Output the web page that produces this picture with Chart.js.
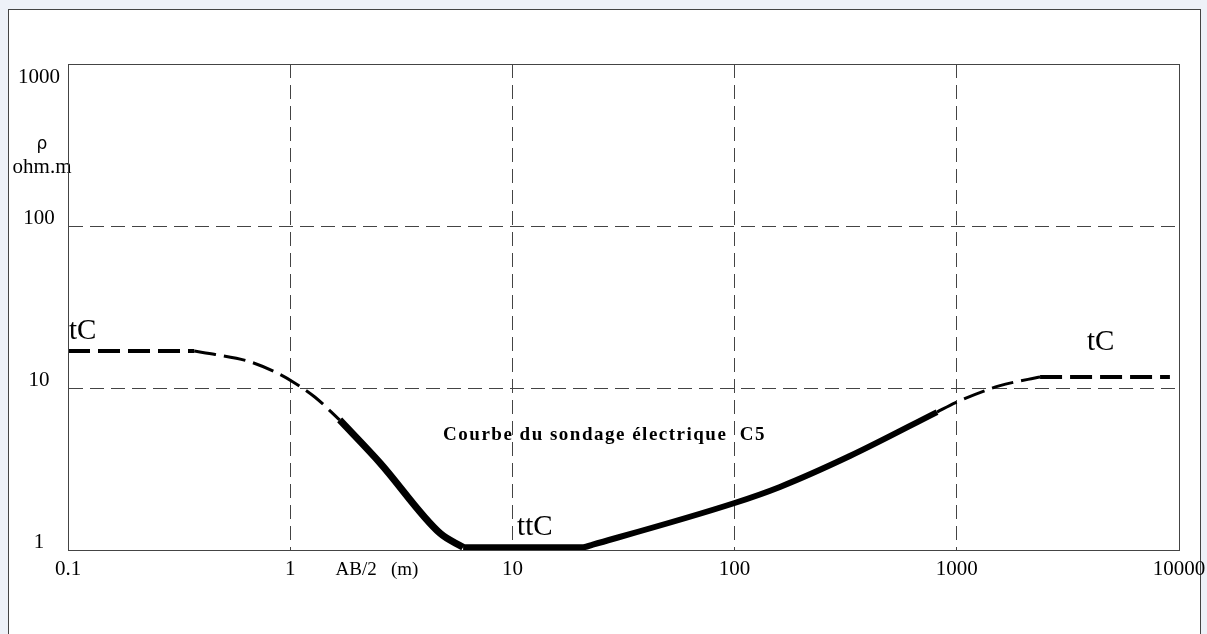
<!DOCTYPE html>
<html>
<head>
<meta charset="utf-8">
<title>Courbe du sondage électrique C5</title>
<script src="https://cdn.jsdelivr.net/npm/chart.js@4.4.1/dist/chart.umd.min.js"></script>
<style>
    html, body { margin: 0; padding: 0; background: #eef1f8; overflow: hidden; }
    #frame {
        position: absolute; left: 8px; top: 9px; width: 1193px; height: 640px;
        background: #fff; border: 1px solid #444; box-sizing: border-box;
    }
    #chart { position: absolute; left: 0; top: 0; }
</style>
</head>
<body>
<div id="frame"></div>
<canvas id="chart" width="1207" height="634"></canvas>
<script>
// axes (log-log)
const xTickValues = [0.1, 1, 10, 100, 1000, 10000];
const xTickLabels = ['0.1', '1', '10', '100', '1000', '10000'];
const yTickValues = [1, 10, 100, 1000];
const yTickLabels = ['1', '10', '100', '1000'];

// courbe : AB/2 (m) et rho (ohm.m), tronçon par tronçon
const flatLeftAB = [0.1, 0.37];
const flatLeftRho = [16.9, 16.9];
const bendLeftAB = [0.37, 0.46, 0.64, 0.85, 1.03, 1.29, 1.67];
const bendLeftRho = [16.9, 16.1, 14.7, 12.6, 10.9, 8.8, 6.35];
const descentAB = [1.67, 2.54, 4.72, 6.0];
const descentRho = [6.35, 3.44, 1.27, 1.04];
const riseAB = [6.0, 20.8, 23, 100, 160, 330, 815];
const riseRho = [1.04, 1.04, 1.08, 1.95, 2.45, 3.8, 7.1];
const bendRightAB = [815, 982, 1550, 2090, 2370];
const bendRightRho = [7.1, 8.1, 10.3, 11.3, 11.7];
const flatRightAB = [2370, 9100];
const flatRightRho = [11.7, 11.7];

// repères posés sur le graphique (coordonnées AB/2, rho)
const noteTexts = ['tC', 'ttC', 'tC'];
const noteAB = [0.101, 10.5, 3850];
const noteRho = [22.5, 1.37, 19];

const serif = '"Liberation Serif", "Times New Roman", serif';

function part(xs, ys, width, dash) {
    return {
        data: xs.map((x, i) => ({x: x, y: ys[i]})),
        borderColor: '#000',
        borderWidth: width,
        borderDash: dash,
        borderJoinStyle: 'round',
        pointRadius: 0,
        cubicInterpolationMode: 'monotone',
        fill: false,
    };
}

const framePlugin = {
    id: 'frame',
    afterDraw(chart) {
        const {ctx, chartArea} = chart;
        ctx.save();
        ctx.strokeStyle = '#444';
        ctx.lineWidth = 1;
        ctx.strokeRect(chartArea.left + 0.5, chartArea.top + 0.5,
            chartArea.right - chartArea.left, chartArea.bottom - chartArea.top);
        ctx.restore();
    }
};

const textPlugin = {
    id: 'texts',
    afterDatasetsDraw(chart) {
        const {ctx, scales: {x, y}, chartArea} = chart;
        ctx.save();
        ctx.fillStyle = '#000';
        ctx.textBaseline = 'middle';

        // tC / ttC
        ctx.font = '29px ' + serif;
        ctx.textAlign = 'left';
        noteTexts.forEach((t, i) => {
            ctx.fillText(t, x.getPixelForValue(noteAB[i]), y.getPixelForValue(noteRho[i]));
        });

        // titre dans le cadre
        ctx.font = 'bold 19px ' + serif;
        ctx.textAlign = 'center';
        ctx.textBaseline = 'alphabetic';
        ctx.letterSpacing = '1.5px';
        ctx.fillText('Courbe du sondage électrique  C5', x.getPixelForValue(26), y.getPixelForValue(4.75));
        ctx.letterSpacing = '0px';

        // légendes des axes
        ctx.textAlign = 'left';
        ctx.font = '19px ' + serif;
        ctx.fillText('AB/2   (m)', x.getPixelForValue(1.6), chartArea.bottom + 25);

        ctx.textAlign = 'center';
        ctx.font = '17px "DejaVu Sans", sans-serif';
        ctx.fillText('ρ', chartArea.left - 26, y.getPixelForValue(300));
        ctx.font = '21px ' + serif;
        ctx.fillText('ohm.m', chartArea.left - 26, y.getPixelForValue(212));
        ctx.restore();
    }
};

new Chart(document.getElementById('chart'), {
    type: 'line',
    data: {
        datasets: [
            part(flatLeftAB, flatLeftRho, 4, [22, 8]),
            part(bendLeftAB, bendLeftRho, 3, [22, 8]),
            part(descentAB, descentRho, 7, []),
            part(riseAB, riseRho, 6, []),
            part(bendRightAB, bendRightRho, 3, [22, 8]),
            part(flatRightAB, flatRightRho, 4, [22, 8]),
        ]
    },
    options: {
        responsive: false,
        animation: false,
        events: [],
        layout: {autoPadding: false, padding: {top: 64, right: 28, left: 0, bottom: 0}},
        plugins: {
            legend: {display: false},
            tooltip: {enabled: false},
        },
        scales: {
            x: {
                type: 'logarithmic',
                min: 0.1,
                max: 10000,
                afterBuildTicks: scale => {
                    scale.ticks = xTickValues.map(v => ({value: v}));
                },
                afterFit: scale => {
                    scale.height = 84;
                    scale.paddingLeft = 0;
                    scale.paddingRight = 0;
                },
                grid: {color: '#444', lineWidth: 1, drawTicks: false},
                border: {display: true, color: '#444', width: 1, dash: [14, 7]},
                ticks: {
                    autoSkip: false,
                    maxRotation: 0,
                    padding: 7,
                    color: '#000',
                    font: {family: serif, size: 21},
                    callback: (value, index) => xTickLabels[index],
                }
            },
            y: {
                type: 'logarithmic',
                min: 1,
                max: 1000,
                afterBuildTicks: scale => {
                    scale.ticks = yTickValues.map(v => ({value: v}));
                },
                afterFit: scale => {
                    scale.width = 68;
                    scale.paddingTop = 0;
                    scale.paddingBottom = 0;
                },
                grid: {color: '#444', lineWidth: 1, drawTicks: false},
                border: {display: true, color: '#444', width: 1, dash: [14, 7]},
                ticks: {
                    autoSkip: false,
                    padding: 8,
                    crossAlign: 'center',
                    labelOffset: -8,
                    color: '#000',
                    font: {family: serif, size: 21, lineHeight: 1},
                    // le 1000 du haut est écrit sous le bord du cadre
                    callback: (value, index) => index === yTickLabels.length - 1
                        ? ['', '', yTickLabels[index]] : yTickLabels[index],
                }
            }
        }
    },
    plugins: [framePlugin, textPlugin]
});
</script>
</body>
</html>
